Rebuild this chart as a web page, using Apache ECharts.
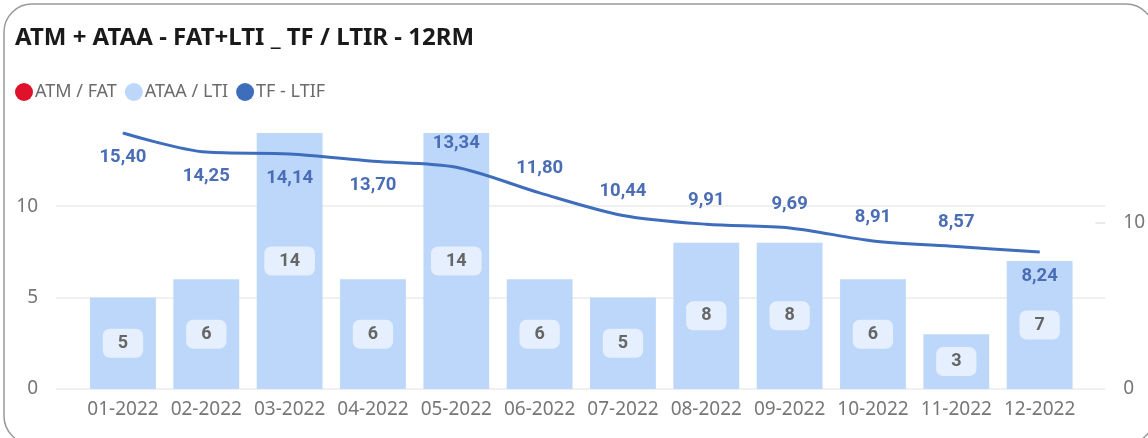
<!DOCTYPE html>
<html><head><meta charset="utf-8">
<script src="https://cdn.jsdelivr.net/npm/echarts@6/dist/echarts.min.js"></script>
<style>html,body{margin:0;padding:0;background:#fff}#c{width:1148px;height:438px}</style>
</head><body><div id="c"></div>
<script>
const chartTitle = 'ATM + ATAA - FAT+LTI _ TF / LTIR - 12RM';
const categories = ['01-2022','02-2022','03-2022','04-2022','05-2022','06-2022','07-2022','08-2022','09-2022','10-2022','11-2022','12-2022'];
const seriesNames = ['ATM / FAT','ATAA / LTI','TF - LTIF'];
const fatValues = [null,null,null,null,null,null,null,null,null,null,null,null];
const ltiValues = [5,6,14,6,14,6,5,8,8,6,3,7];
const ltifValues = [15.40,14.25,14.14,13.70,13.34,11.80,10.44,9.91,9.69,8.91,8.57,8.24];
const leftTicks = [0,5,10];
const rightTicks = [0,10];
const ltifLabelSide = ['bottom','bottom','bottom','bottom','top','top','top','top','top','top','top','bottom'];

const leftMax = Math.max(...ltiValues);
const rightMax = Math.max(...ltifValues);
const fmt = v => v.toFixed(2).replace('.', ',');

const chart = echarts.init(document.getElementById('c'));
const TOP = 133, BOTTOM = 49;
chart.setOption({
  animation: false,
  backgroundColor: '#fff',
  graphic: [{
    type: 'rect', z: -10, silent: true,
    shape: {x: 4, y: 4, width: 1150, height: 440, r: 28},
    style: {fill: '#fff', stroke: '#999', lineWidth: 1.5}
  }],
  title: {
    text: chartTitle, left: 15, top: 26, padding: 0,
    textStyle: {fontFamily: 'Noto Sans', fontWeight: 'bold', fontSize: 24, color: '#1a1a1a'}
  },
  legend: {
    left: 15, top: 83, padding: 0, itemGap: 8, itemWidth: 18, itemHeight: 18,
    icon: 'circle',
    textStyle: {fontFamily: 'Noto Sans', fontSize: 18, color: '#6b6b6b', padding: [0,0,0,-3]},
    data: seriesNames
  },
  grid: [
    {left: 56, right: 41, top: TOP, bottom: BOTTOM},
    {left: 81.3, right: 66.7, top: TOP, bottom: BOTTOM}
  ],
  xAxis: [
    {type: 'category', gridIndex: 0, data: categories, show: false},
    {type: 'category', gridIndex: 1, data: categories,
     axisLine: {show: false}, axisTick: {show: false},
     axisLabel: {interval: 0, margin: 11, color: '#777', fontFamily: 'Noto Sans', fontSize: 19}}
  ],
  yAxis: [
    {type: 'value', gridIndex: 0, min: 0, max: leftMax, interval: 5, position: 'left',
     axisLine: {show: false}, axisTick: {show: false},
     axisLabel: {margin: 18, color: '#777', fontFamily: 'Noto Sans', fontSize: 19,
       customValues: leftTicks},
     splitLine: {show: true, showMaxLine: false, lineStyle: {color: '#ebebeb', width: 1.5}}},
    {type: 'value', gridIndex: 0, min: 0, max: rightMax, interval: 10, position: 'right',
     axisLine: {show: false},
     axisTick: {show: true, inside: true, length: 10, customValues: [10], lineStyle: {color: '#e3e3e3', width: 1.5}},
     axisLabel: {margin: 18, color: '#777', fontFamily: 'Noto Sans', fontSize: 19, align: 'left',
       customValues: rightTicks},
     splitLine: {show: false}},
    {type: 'value', gridIndex: 1, min: 0, max: leftMax, show: false, splitLine: {show: false}},
    {type: 'value', gridIndex: 1, min: 0, max: rightMax, show: false, splitLine: {show: false}}
  ],
  series: [
    {name: seriesNames[0], type: 'bar', xAxisIndex: 1, yAxisIndex: 2, stack: 'a',
     itemStyle: {color: '#E0112B'}, data: fatValues, barCategoryGap: '21%'},
    {name: seriesNames[1], type: 'bar', xAxisIndex: 1, yAxisIndex: 2, stack: 'a',
     itemStyle: {color: '#BDD7FA'}, data: ltiValues, barCategoryGap: '21%',
     label: {show: true, position: 'inside', color: '#666', fontFamily: 'Roboto', fontWeight: 'bold', fontSize: 18,
       backgroundColor: 'rgba(255,255,255,0.6)', borderRadius: 7, padding: [6, 15, 5, 15]}},
    {name: seriesNames[2], type: 'line', xAxisIndex: 1, yAxisIndex: 3, z: 5,
     smooth: 0.3, symbol: 'circle', symbolSize: 1, showSymbol: true,
     lineStyle: {color: '#3E6DBC', width: 3}, itemStyle: {color: '#3E6DBC'},
     label: {show: true, distance: 14, color: '#4A6DB5', fontFamily: 'Roboto', fontWeight: 'bold', fontSize: 18.5,
       formatter: p => fmt(p.value)},
     data: ltifValues.map((v, i) => ({value: v, label: {position: ltifLabelSide[i]}}))}
  ]
});
</script></body></html>
